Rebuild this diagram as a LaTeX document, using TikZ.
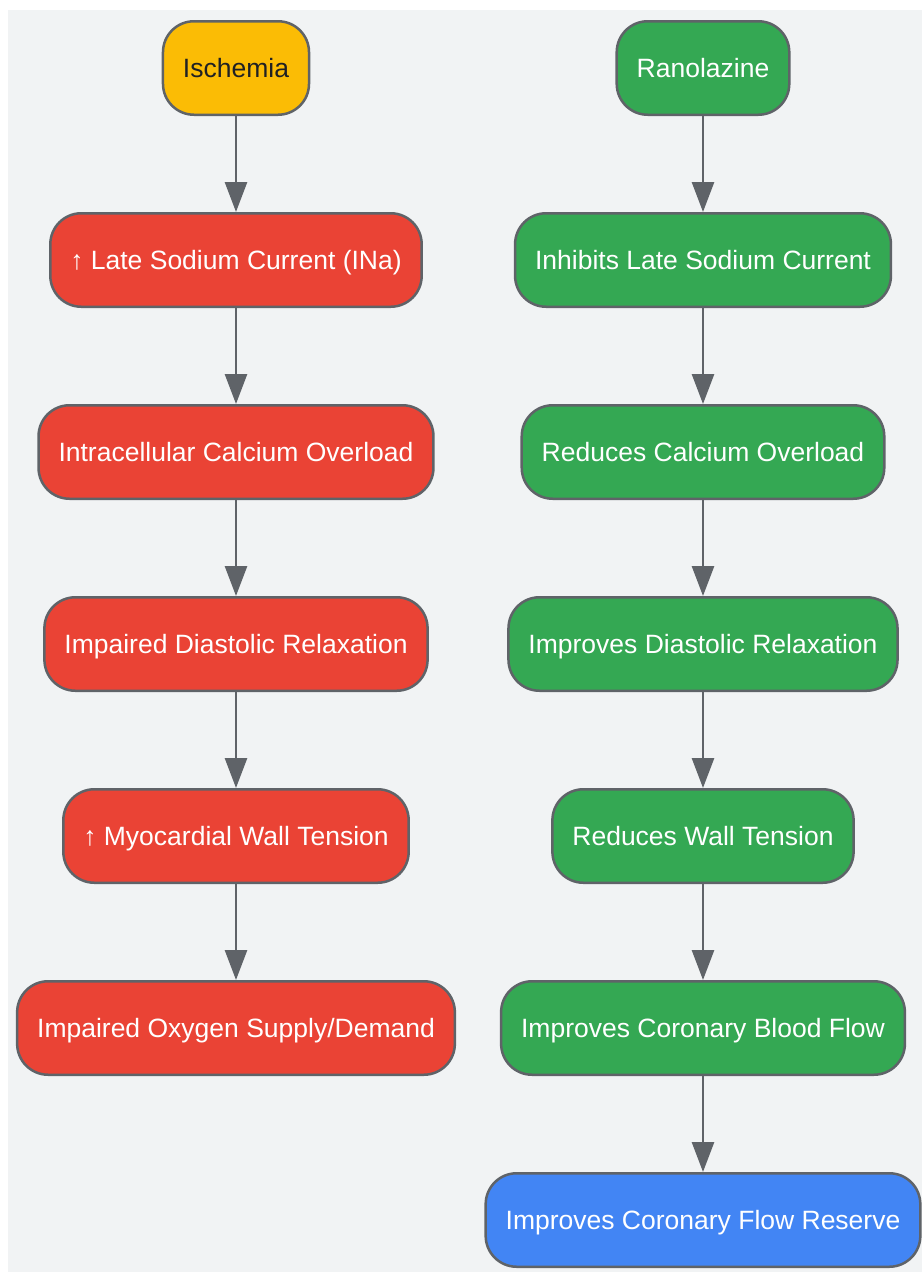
\documentclass[tikz,border=0pt]{standalone}
\usepackage{fontspec}
\setmainfont{Liberation Sans}
\usepackage{xcolor}
\definecolor{gyellow}{HTML}{FBBC05}
\definecolor{gred}{HTML}{EA4335}
\definecolor{ggreen}{HTML}{34A853}
\definecolor{gblue}{HTML}{4285F4}
\definecolor{gline}{HTML}{5F6368}
\definecolor{gback}{HTML}{F1F3F4}
\definecolor{gtext}{HTML}{202124}
\usetikzlibrary{positioning}
\usetikzlibrary{arrows.meta}

\begin{document}
\begin{tikzpicture}[x=1pt, y=-1pt,
    box/.style={draw=gline, line width=2.5pt, rounded corners=31pt,
      minimum height=93.5pt, inner xsep=20pt, text=white,
      text height=19pt, text depth=0pt,
      font=\fontsize{26.5}{30}\selectfont},
    bad/.style={box, fill=gred},
    good/.style={box, fill=ggreen},
    flow/.style={color=gline, line width=2.8pt, -{Triangle[length=30pt,width=22pt]}}]
    \useasboundingbox (0,0) rectangle (922,1272);
    \fill [gback] (8,10) rectangle (922,1272);

    % cause
    \node [box, fill=gyellow, text=gtext] (l1) at (236,68) {Ischemia};
    \node [bad, below=96pt of l1] (l2) {↑ Late Sodium Current (INa)};
    \node [bad, below=96pt of l2] (l3) {Intracellular Calcium Overload};
    \node [bad, below=96pt of l3] (l4) {Impaired Diastolic Relaxation};
    \node [bad, below=96pt of l4] (l5) {↑ Myocardial Wall Tension};
    \node [bad, below=96pt of l5] (l6) {Impaired Oxygen Supply/Demand};

    % drug
    \node [good] (r1) at (703,68) {Ranolazine};
    \node [good, below=96pt of r1] (r2) {Inhibits Late Sodium Current};
    \node [good, below=96pt of r2] (r3) {Reduces Calcium Overload};
    \node [good, below=96pt of r3] (r4) {Improves Diastolic Relaxation};
    \node [good, below=96pt of r4] (r5) {Reduces Wall Tension};
    \node [good, below=96pt of r5] (r6) {Improves Coronary Blood Flow};
    \node [box, fill=gblue, below=96pt of r6] (r7) {Improves Coronary Flow Reserve};

    \path[flow] (l1) edge (l2)
    (l2) edge (l3)
    (l3) edge (l4)
    (l4) edge (l5)
    (l5) edge (l6);

    \path[flow] (r1) edge (r2)
    (r2) edge (r3)
    (r3) edge (r4)
    (r4) edge (r5)
    (r5) edge (r6)
    (r6) edge (r7);

  \end{tikzpicture}
\end{document}
